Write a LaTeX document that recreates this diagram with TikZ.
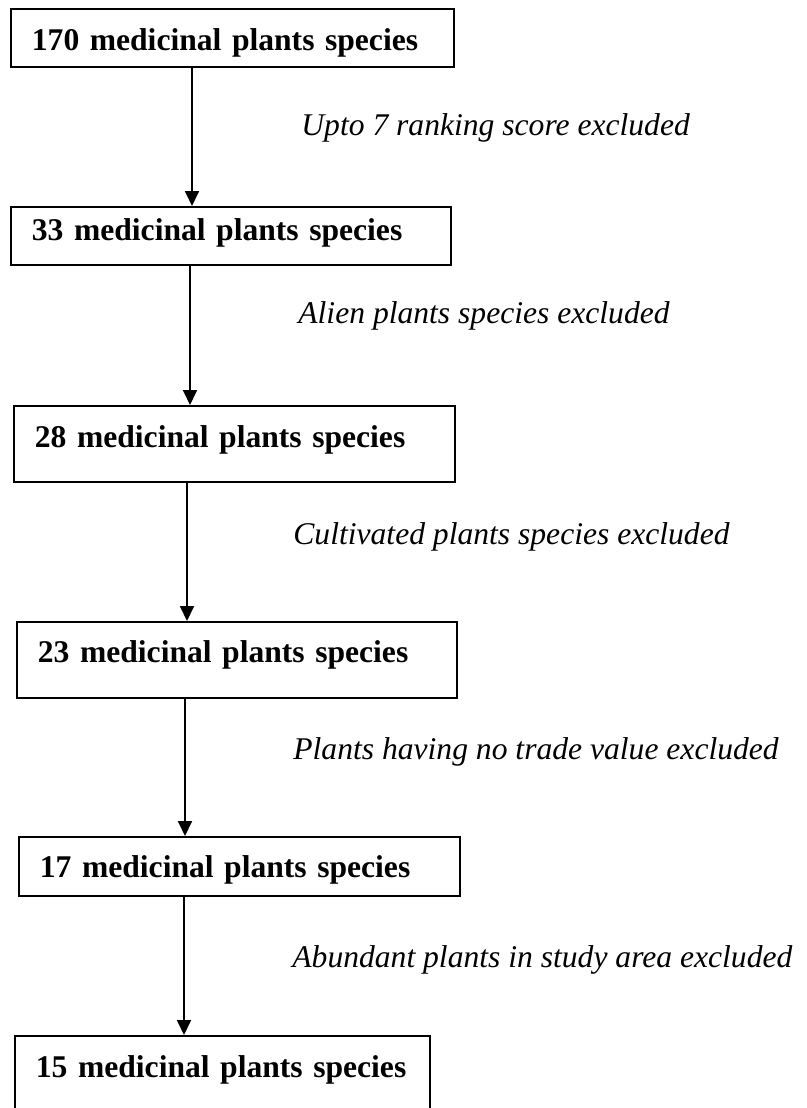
\documentclass[tikz,border=0pt]{standalone}
\usepackage{fontspec}
\setmainfont{Liberation Serif}
\usetikzlibrary{arrows.meta, positioning}

\begin{document}
\begin{tikzpicture}[
    x=0.5pt, y=-0.5pt,
    stage/.style={draw, line width=0.9pt, anchor=north west, align=left,
                  inner xsep=10.5pt, inner ysep=0pt,
                  font=\fontsize{15.8pt}{19pt}\selectfont\bfseries},
    cut/.style={anchor=west, inner sep=0pt,
                font=\fontsize{15.8pt}{19pt}\selectfont\itshape},
    arr/.style={-{Triangle[width=7pt, length=7.5pt]}, line width=0.9pt}
  ]
    \useasboundingbox (0,0) rectangle (807,1108);

    \node[stage, text width=200.5pt, text height=20.7pt, text depth=8.3pt] (s170) at (10,8) {170 medicinal plants species};
    \node[stage, text width=199pt, text height=16.7pt, text depth=12.3pt] (s33) at (10,206) {33 medicinal plants species};
    \node[stage, text width=199.5pt, text height=20.7pt, text depth=17.3pt] (s28) at (13,405) {28 medicinal plants species};
    \node[stage, text width=199pt, text height=20.2pt, text depth=17.8pt] (s23) at (16,621) {23 medicinal plants species};
    \node[stage, text width=199.5pt, text height=20.2pt, text depth=9.3pt] (s17) at (18,836) {17 medicinal plants species};
    \begin{scope}
      \clip (0,0) rectangle (807,1108);
      \node[stage, text width=186.5pt, text height=20.7pt, text depth=21.8pt] (s15) at (14,1035) {15 medicinal plants species};
    \end{scope}

    \draw[arr] (s170.south -| 192,0) -- (s33.north -| 192,0);
    \draw[arr] (s33.south -| 190,0) -- (s28.north -| 190,0);
    \draw[arr] (s28.south -| 187,0) -- (s23.north -| 187,0);
    \draw[arr] (s23.south -| 185,0) -- (s17.north -| 185,0);
    \draw[arr] (s17.south -| 184,0) -- (s15.north -| 184,0);

    \node[cut] (c1) at (301,127.5) {Upto 7 ranking score excluded};
    \node[cut] (c2) at (298,316) {Alien plants species excluded};
    \node[cut] (c3) at (293,537) {Cultivated plants species excluded};
    \node[cut] (c4) at (293,752) {Plants having no trade value excluded};
    \node[cut] (c5) at (292,960) {Abundant plants in study area excluded};
  \end{tikzpicture}
\end{document}
